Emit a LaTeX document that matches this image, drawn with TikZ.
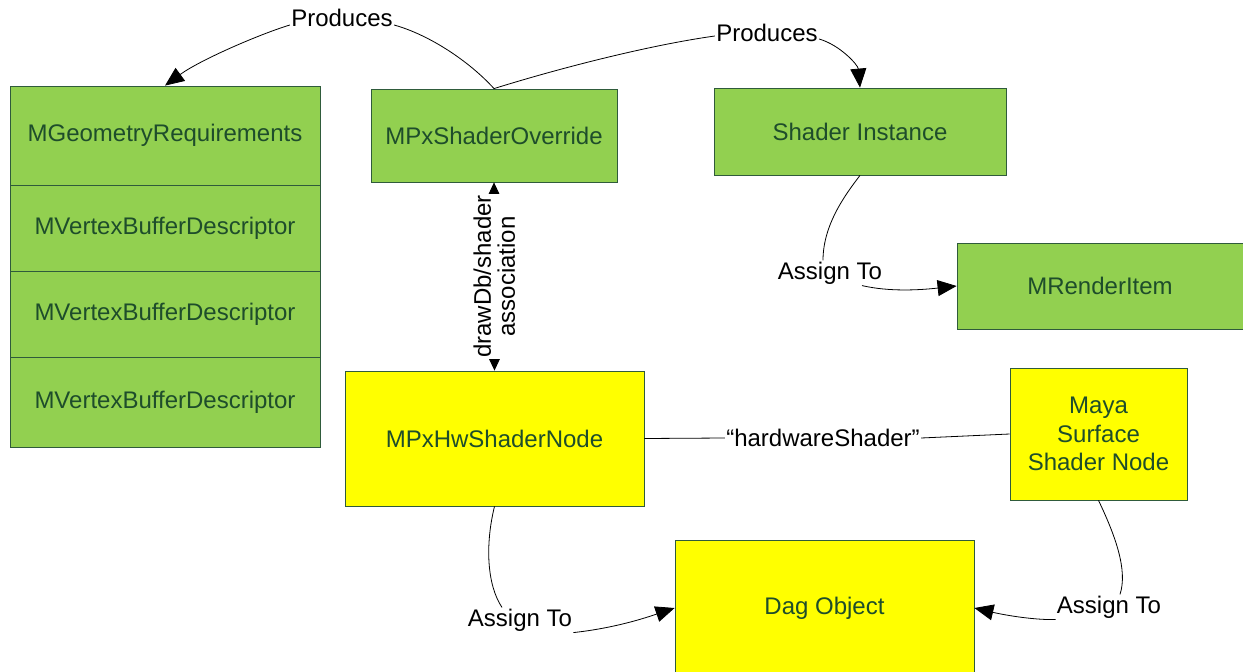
\documentclass[tikz,border=0pt]{standalone}
\usepackage{fontspec}
\setmainfont{Liberation Sans}
\usetikzlibrary{arrows.meta}
\definecolor{boxgreen}{HTML}{92D050}
\definecolor{boxyellow}{HTML}{FFFF00}
\definecolor{edgegreen}{HTML}{2F5B3B}
\definecolor{textgreen}{HTML}{1E4D2B}

\begin{document}
\begin{tikzpicture}[x=1pt, y=-1pt, line width=0.8pt,
	main/.style = {draw=edgegreen, text=textgreen, font=\fontsize{24}{28.5}\selectfont, align=center, inner sep=0pt},
	greenbox/.style = {main, fill=boxgreen},
	yellowbox/.style = {main, fill=boxyellow},
	lbl/.style = {fill=white, inner sep=1pt, font=\fontsize{24}{24}\selectfont},
	tip/.style = {-{Triangle[length=19pt,width=16pt]}}]
	\useasboundingbox (0,0) rectangle (1243,672);
	% boxes
	\node[greenbox, minimum width=310pt, minimum height=99pt] (geom) at (165,135.5) {MGeometryRequirements};
	\node[greenbox, minimum width=310pt, minimum height=86pt] (vbd1) at (165,228) {MVertexBufferDescriptor};
	\node[greenbox, minimum width=310pt, minimum height=86pt] (vbd2) at (165,314) {MVertexBufferDescriptor};
	\node[greenbox, minimum width=310pt, minimum height=90pt] (vbd3) at (165,402) {MVertexBufferDescriptor};
	\node[greenbox, minimum width=246pt, minimum height=93pt] (override) at (494,135.5) {MPxShaderOverride};
	\node[greenbox, minimum width=292pt, minimum height=87pt] (inst) at (860,131.5) {Shader Instance};
	\node[greenbox, minimum width=286pt, minimum height=86pt] (render) at (1100,286) {MRenderItem};
	\node[yellowbox, minimum width=299pt, minimum height=135pt] (hw) at (494.5,438.5) {MPxHwShaderNode};
	\node[yellowbox, minimum width=177pt, minimum height=132pt] (maya) at (1098.5,434) {Maya\\Surface\\Shader Node};
	\node[yellowbox, minimum width=299pt, minimum height=136pt] (dag) at (824.5,608) {Dag Object};
	% labels
	\node[lbl] (prod1) at (342,18) {Produces};
	\node[lbl] (prod2) at (767,33) {Produces};
	\node[lbl] (assign1) at (830,273) {Assign To};
	\node[lbl] (assign2) at (520,620) {Assign To};
	\node[lbl] (assign3) at (1109,607) {Assign To};
	\node[lbl] (hws) at (823,438) {“hardwareShader”};
	% connectors
	\draw (override.north) .. controls (470,62) and (430,35) .. ([yshift=-7pt]prod1.east);
	\draw[tip] ([yshift=-7pt]prod1.west) .. controls (260,34) and (200,60) .. (geom.north);
	\draw (override.north) .. controls (560,68) and (650,45) .. ([yshift=-3pt]prod2.west);
	\draw[tip] ([yshift=-6pt]prod2.east) .. controls (840,45) and (858,65) .. (inst.north);
	\draw[{Triangle[length=13pt,width=12pt]}-{Triangle[length=13pt,width=12pt]}] (override.south) -- (hw.north)
		node[midway, lbl, rotate=90, align=center] {drawDb/shader\\association};
	\draw (inst.south) .. controls (845,195) and (823,225) .. ([xshift=-7pt]assign1.north);
	\draw[tip] ([xshift=32pt]assign1.south) .. controls (890,292) and (920,290) .. (render.west);
	\draw (hw.east) -- (hws.west);
	\draw (hws.east) -- (maya.west);
	\draw (hw.south) .. controls (485,545) and (487,585) .. ([xshift=-18pt]assign2.north);
	\draw[tip] (assign2.south east) .. controls (615,628) and (645,618) .. (dag.west);
	\draw (maya.south) .. controls (1115,535) and (1128,570) .. ([xshift=11pt]assign3.north);
	\draw[tip] (assign3.south west) .. controls (1030,620) and (1000,614) .. (dag.east);
\end{tikzpicture}
\end{document}
